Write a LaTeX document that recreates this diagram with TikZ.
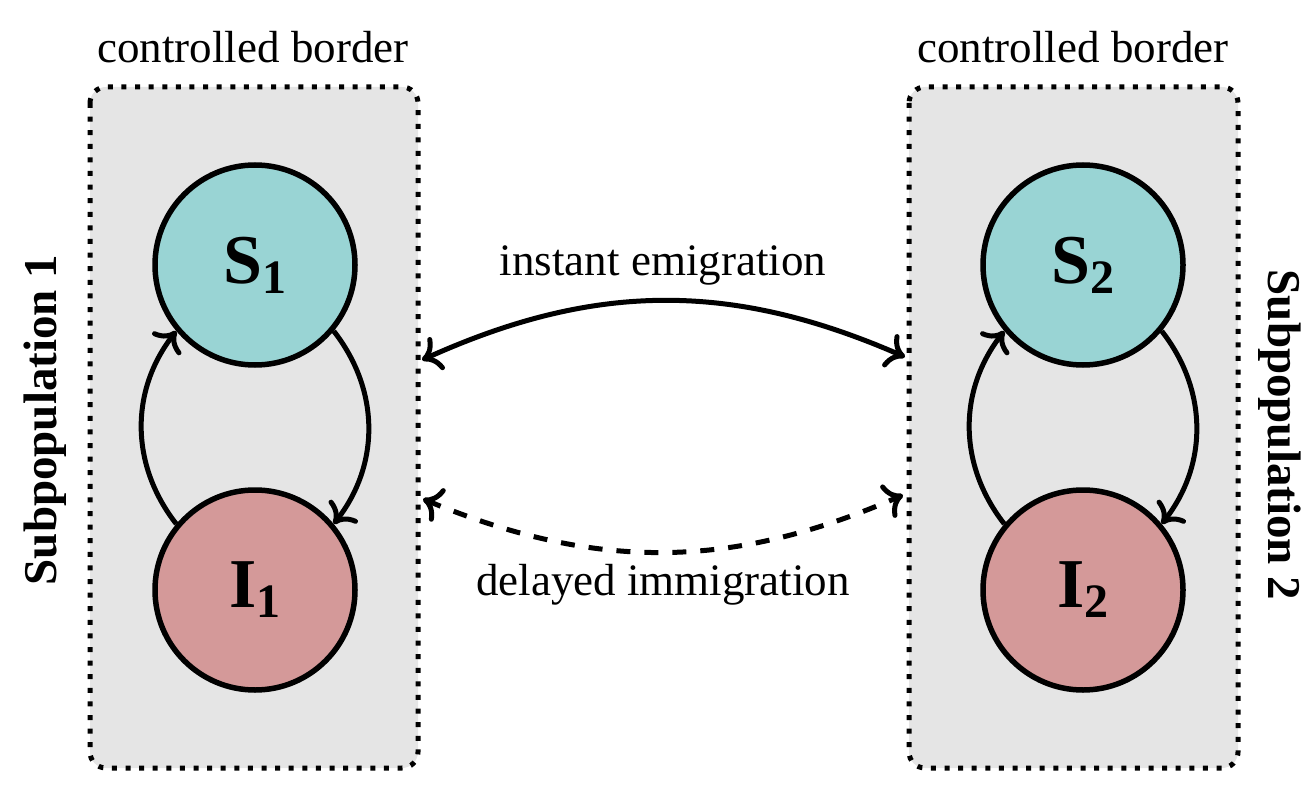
\documentclass[tikz,border=0pt]{standalone}
\usepackage{fontspec}
\setmainfont{Liberation Serif}
\usetikzlibrary{arrows.meta}
\definecolor{boxgray}{RGB}{229,229,229}
\definecolor{steal}{RGB}{153,212,212}
\definecolor{ipink}{RGB}{212,153,153}
\tikzset{
  border/.style={draw=black, fill=boxgray, line width=5pt, rounded corners=16pt, dash pattern=on 5pt off 8.6pt},
  compart/.style={circle, draw=black, line width=5.5pt, minimum size=200pt, inner sep=0pt},
  tipk/.tip={Computer Modern Rightarrow[length=18pt,width=36pt,line width=5pt]},
  arr/.style={line width=5pt, -tipk},
  darr/.style={line width=5pt, tipk-tipk},
  lbl/.style={font=\fontsize{45}{54}\selectfont, inner sep=0pt},
  sublbl/.style={font=\fontsize{47}{56}\selectfont\bfseries, inner sep=0pt},
}
\newcommand{\complbl}[2]{\textbf{\fontsize{70}{80}\selectfont #1\raisebox{-10pt}{\fontsize{48}{50}\selectfont #2}}}
\begin{document}
\begin{tikzpicture}[x=1pt, y=1pt]
\path[use as bounding box] (0,0) rectangle (1313,-794);
% boxes
\path[border] (90,-87) rectangle (418,-768);
\path[border] (909,-87) rectangle (1238,-768);
% compartments
\node[compart, fill=steal] (S1) at (255,-265) {\complbl{S}{1}};
\node[compart, fill=ipink] (I1) at (255,-590) {\complbl{I}{1}};
\node[compart, fill=steal] (S2) at (1083,-265) {\complbl{S}{2}};
\node[compart, fill=ipink] (I2) at (1083,-590) {\complbl{I}{2}};
% inner transitions
\draw[arr] (S1.-40) to[bend left=38] (I1.40);
\draw[arr] (I1.140) to[bend left=38] (S1.220);
\draw[arr] (S2.-40) to[bend left=38] (I2.40);
\draw[arr] (I2.140) to[bend left=38] (S2.220);
% migration
\coordinate (eL) at (422,-360);
\coordinate (eR) at (905,-357);
\coordinate (dL) at (423,-499);
\coordinate (dR) at (903,-495);
\draw[darr] (eL) to[bend left=24] (eR);
\draw[darr, dash pattern=on 14pt off 14pt] (dL) to[bend right=23] (dR);
% labels
\node[lbl] (t1) at (253,-47) {controlled border};
\node[lbl] (t2) at (1073,-47) {controlled border};
\node[lbl] (em) at (663,-265) {instant emigration};
\node[lbl] (im) at (663,-585) {delayed immigration};
\node[sublbl, rotate=90] (p1) at (45,-420) {Subpopulation 1};
\node[sublbl, rotate=-90] (p2) at (1280,-435) {Subpopulation 2};
\end{tikzpicture}
\end{document}
